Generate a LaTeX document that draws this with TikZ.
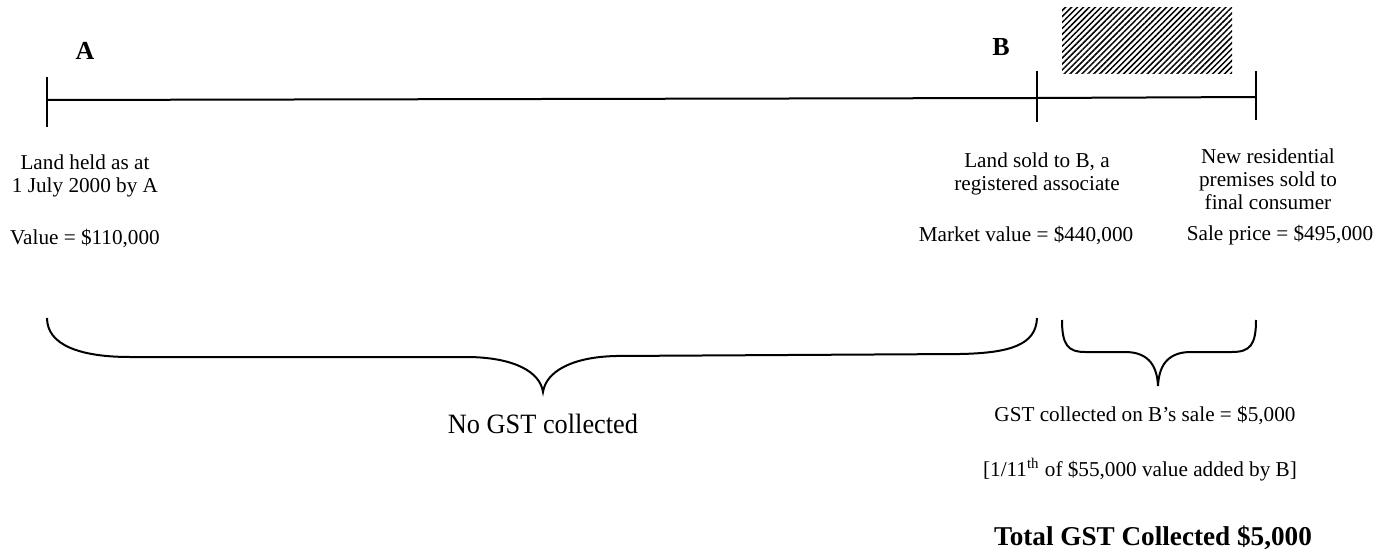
\documentclass[tikz,border=0pt]{standalone}
\usepackage{fontspec}
\setmainfont{Liberation Serif}
\usetikzlibrary{patterns.meta,calc}
\begin{document}
\begin{tikzpicture}[x=0.5pt,y=-0.5pt,
  txt/.style={inner sep=0pt, align=center, font=\fontsize{10.6}{11.7}\selectfont},
  lettr/.style={inner sep=0pt, font=\fontsize{13}{15}\selectfont\bfseries},
  bigtxt/.style={inner sep=0pt, font=\fontsize{14}{16}\selectfont, xscale=0.94},
  tottxt/.style={inner sep=0pt, font=\fontsize{13.6}{16}\selectfont\bfseries},
  axis/.style={line width=1pt},
  tick/.style={line width=1pt},
  brace/.style={line width=1pt},
  hatchbox/.style={inner sep=0pt, minimum width=85pt, minimum height=33pt,
    pattern={Lines[angle=45,distance=2.1pt,line width=0.75pt]}}
]
\useasboundingbox (0,0) rectangle (1392,556);

% labels A and B
\node[lettr] (A) at (85,51) {A};
\node[lettr] (B) at (1001,47) {B};

% hatched box
\node[hatchbox] (hatch) at (1147,41) {};

% timeline
\coordinate (tA) at (47,100);
\coordinate (tB) at (1037,98);
\coordinate (tC) at (1256,97);
\draw[axis] (tA) -- (tB) -- (tC);
\draw[tick] ($(tA)+(0,-23)$) -- ($(tA)+(0,27)$);
\draw[tick] ($(tB)+(0,-27)$) -- ($(tB)+(0,24)$);
\draw[tick] ($(tC)+(0,-26)$) -- ($(tC)+(0,23)$);

% descriptions
\node[txt, anchor=north] (landA) at (85,154) {Land held as at\\1 July 2000 by A};
\node[txt] (valA) at (85,238) {Value = \$110,000};
\node[txt, anchor=north] (landB) at (1037,152) {Land sold to B, a\\registered associate};
\node[txt] (mvB) at (1026,235) {Market value = \$440,000};
\node[txt, anchor=north] (newC) at (1268,148) {New residential\\premises sold to\\final consumer};
\node[txt] (spC) at (1280,235) {Sale price = \$495,000};

% braces
\draw[brace] (47,318) .. controls (47,345) and (80,357) .. (130,357) -- (470,357)
  .. controls (515,358) and (540,372) .. (543,392)
  .. controls (546,372) and (571,357) .. (616,356) -- (960,354)
  .. controls (1010,353) and (1036,345) .. (1037,318);
\draw[brace] (1062,320) .. controls (1062,345) and (1068,352) .. (1085,352) -- (1125,352)
  .. controls (1145,352) and (1157,362) .. (1158,386)
  .. controls (1159,362) and (1171,352) .. (1191,352) -- (1232,352)
  .. controls (1250,352) and (1256,345) .. (1256,320);

% bottom texts
\node[bigtxt] (nogst) at (543,424) {No GST collected};
\node[txt] (gst) at (1145,415) {GST collected on B's sale = \$5,000};
\node[txt] (frac) at (1140,470) {[1/11\textsuperscript{th} of \$55,000 value added by B]};
\node[tottxt] (total) at (1153,538) {Total GST Collected \$5,000};
\end{tikzpicture}
\end{document}
